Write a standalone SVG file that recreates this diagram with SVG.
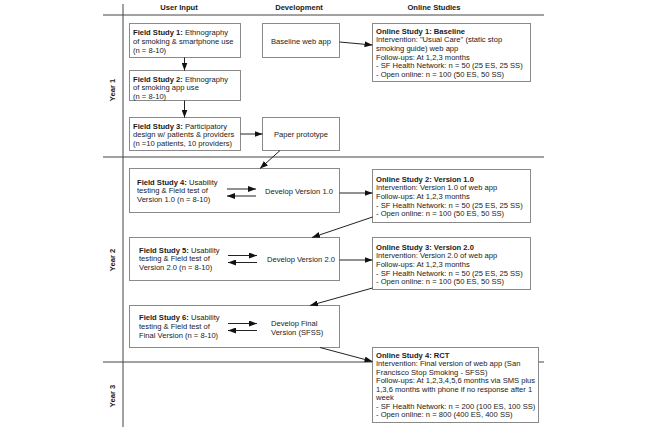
<svg xmlns="http://www.w3.org/2000/svg" width="650" height="431" viewBox="0 0 650 431">
<style>
text{font-family:"Liberation Sans",Arial,sans-serif;font-size:7.6px;fill:#1a1a1a}
.b{font-weight:bold}
.h{font-weight:bold;text-anchor:middle}
.grid{stroke:#444;stroke-width:1;fill:none}
.box{fill:#fff;stroke:#8a8a8a;stroke-width:1}
.c{stroke:#222;stroke-width:1;fill:none;marker-end:url(#ah)}
.m{text-anchor:middle}
</style>
<defs>
<marker id="ah" markerUnits="userSpaceOnUse" markerWidth="8" markerHeight="6" refX="8" refY="3" orient="auto">
<path d="M0,0 L8,3 L0,6 Z" fill="#111"/>
</marker>
</defs>
<rect width="650" height="431" fill="#fff"/>
<g id="grid">
<line class="grid" x1="103" y1="15" x2="544" y2="15"/>
<line class="grid" x1="103" y1="157" x2="544" y2="157"/>
<line class="grid" x1="103" y1="362" x2="544" y2="362"/>
<line class="grid" x1="123" y1="4" x2="123" y2="427"/>
<text class="h" x="179" y="10">User Input</text>
<text class="h" x="299" y="10">Development</text>
<text class="h" x="434" y="10">Online Studies</text>
<text class="h" transform="translate(115,90) rotate(-90)">Year 1</text>
<text class="h" transform="translate(115,260) rotate(-90)">Year 2</text>
<text class="h" transform="translate(115,396) rotate(-90)">Year 3</text>
</g>
<g id="fs1">
<rect class="box" x="129.5" y="23.5" width="111" height="34"/>
<text x="133" y="35"><tspan class="b">Field Study 1:</tspan> Ethnography</text>
<text x="133" y="43.8">of smoking &amp; smartphone use</text>
<text x="133" y="52.6">(n = 8-10)</text>
</g>
<g id="fs2">
<rect class="box" x="129.5" y="70.5" width="111" height="30"/>
<text x="133" y="81.5"><tspan class="b">Field Study 2:</tspan> Ethnography</text>
<text x="133" y="90.3">of smoking app use</text>
<text x="133" y="99.1">(n = 8-10)</text>
</g>
<g id="fs3">
<rect class="box" x="129.5" y="117.5" width="111" height="33"/>
<text x="133" y="128.5"><tspan class="b">Field Study 3:</tspan> Participatory</text>
<text x="133" y="137.3">design w/ patients &amp; providers</text>
<text x="133" y="146.1">(n =10 patients, 10 providers)</text>
</g>
<g id="baseline">
<rect class="box" x="262.5" y="23.5" width="77" height="34"/>
<text class="m" x="301" y="43.5">Baseline web app</text>
</g>
<g id="paper">
<rect class="box" x="262.5" y="117.5" width="77" height="33"/>
<text class="m" x="301" y="137">Paper prototype</text>
</g>
<g id="os1">
<rect class="box" x="372.5" y="23.5" width="158" height="58"/>
<text class="b" x="376" y="33.7">Online Study 1: Baseline</text>
<text x="376" y="42.3">Intervention: "Usual Care" (static stop</text>
<text x="376" y="50.9">smoking guide) web app</text>
<text x="376" y="59.5">Follow-ups: At 1,2,3 months</text>
<text x="376" y="68.1">- SF Health Network: n = 50 (25 ES, 25 SS)</text>
<text x="376" y="76.7">- Open online: n = 100 (50 ES, 50 SS)</text>
</g>
<g id="fs4">
<rect class="box" x="129.5" y="168.5" width="210" height="44"/>
<text x="137" y="184.5"><tspan class="b">Field Study 4:</tspan> Usability</text>
<text x="137" y="193.3">testing &amp; Field test of</text>
<text x="137" y="202.1">Version 1.0 (n = 8-10)</text>
<text x="265" y="193.5">Develop Version 1.0</text>
</g>
<g id="os2">
<rect class="box" x="372.5" y="169.5" width="158" height="53"/>
<text class="b" x="376" y="181.7">Online Study 2: Version 1.0</text>
<text x="376" y="190.3">Intervention: Version 1.0 of web app</text>
<text x="376" y="198.9">Follow-ups: At 1,2,3 months</text>
<text x="376" y="207.5">- SF Health Network: n = 50 (25 ES, 25 SS)</text>
<text x="376" y="216.1">- Open online: n = 100 (50 ES, 50 SS)</text>
</g>
<g id="fs5">
<rect class="box" x="129.5" y="237.5" width="210" height="43"/>
<text x="139" y="252.5"><tspan class="b">Field Study 5:</tspan> Usability</text>
<text x="139" y="261.3">testing &amp; Field test of</text>
<text x="139" y="270.1">Version 2.0 (n = 8-10)</text>
<text x="267" y="261.5">Develop Version 2.0</text>
</g>
<g id="os3">
<rect class="box" x="372.5" y="237.5" width="158" height="52"/>
<text class="b" x="376" y="249.7">Online Study 3: Version 2.0</text>
<text x="376" y="258.3">Intervention: Version 2.0 of web app</text>
<text x="376" y="266.9">Follow-ups: At 1,2,3 months</text>
<text x="376" y="275.5">- SF Health Network: n = 50 (25 ES, 25 SS)</text>
<text x="376" y="284.1">- Open online: n = 100 (50 ES, 50 SS)</text>
</g>
<g id="fs6">
<rect class="box" x="129.5" y="305.5" width="210" height="42"/>
<text x="139" y="320"><tspan class="b">Field Study 6:</tspan> Usability</text>
<text x="139" y="329.2">testing &amp; Field test of</text>
<text x="139" y="338.4">Final Version (n = 8-10)</text>
<text x="271" y="325.5">Develop Final</text>
<text x="271" y="335">Version (SFSS)</text>
</g>
<g id="os4">
<rect class="box" x="372.5" y="347.5" width="166" height="75"/>
<text class="b" x="376" y="357.7">Online Study 4: RCT</text>
<text x="376" y="366.2">Intervention: Final version of web app (San</text>
<text x="376" y="374.7">Francisco Stop Smoking - SFSS)</text>
<text x="376" y="383.2">Follow-ups: At 1,2,3,4,5,6 months via SMS plus</text>
<text x="376" y="391.7">1,3,6 months with phone if no response after 1</text>
<text x="376" y="400.2">week</text>
<text x="376" y="408.7">- SF Health Network: n = 200 (100 ES, 100 SS)</text>
<text x="376" y="417.2">- Open online: n = 800 (400 ES, 400 SS)</text>
</g>
<g id="connectors">
<line class="c" x1="184.5" y1="57.5" x2="184.5" y2="70.5"/>
<line class="c" x1="184.5" y1="100.5" x2="184.5" y2="117.5"/>
<line class="c" x1="240.5" y1="134" x2="262.5" y2="134"/>
<line class="c" x1="339.5" y1="42" x2="372.5" y2="45"/>
<line class="c" x1="280" y1="150.5" x2="260" y2="168.5"/>
<line class="c" x1="227" y1="189" x2="256" y2="189"/>
<line class="c" x1="256" y1="196" x2="227" y2="196"/>
<line class="c" x1="339.5" y1="193" x2="372.5" y2="193"/>
<line class="c" x1="372.5" y1="217" x2="312" y2="237.5"/>
<line class="c" x1="228" y1="255.5" x2="257" y2="255.5"/>
<line class="c" x1="257" y1="262.5" x2="228" y2="262.5"/>
<line class="c" x1="339.5" y1="260" x2="372.5" y2="260"/>
<line class="c" x1="372.5" y1="288" x2="310" y2="305.5"/>
<line class="c" x1="228" y1="323.5" x2="257" y2="323.5"/>
<line class="c" x1="257" y1="330.5" x2="228" y2="330.5"/>
<line class="c" x1="320" y1="347.5" x2="372.5" y2="361.5"/>
</g>
</svg>
